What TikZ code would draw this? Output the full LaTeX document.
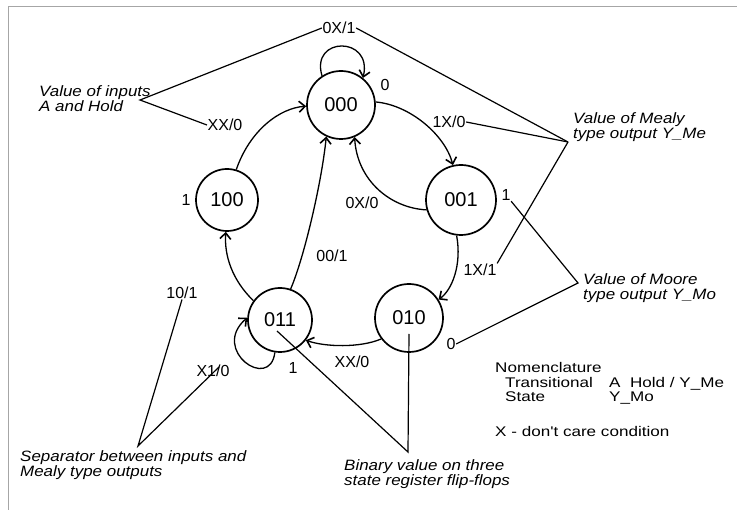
\documentclass[tikz,border=0pt]{standalone}
\usepackage{fontspec}
\setmainfont{Liberation Sans}
\newfontfamily\nomfont[FakeStretch=1.22]{Liberation Sans}
\newfontfamily\annfont[FakeStretch=1.13]{Liberation Sans}
\usetikzlibrary{arrows.meta}
\begin{document}
\begin{tikzpicture}[x=1pt,y=-1pt,
  statenode/.style={circle,draw,line width=1.7pt,inner sep=0pt,font=\fontsize{20}{24}\selectfont},
  tlab/.style={inner sep=0.5pt,font=\fontsize{16}{18}\selectfont},
  ann/.style={inner sep=0pt,align=left,anchor=north west,font=\fontsize{15}{15}\annfont\itshape},
  nom/.style={inner sep=0pt,anchor=north west,font=\fontsize{14}{15}\nomfont},
  trans/.style={line width=1.3pt,-{Straight Barb[length=6pt,width=11pt,line width=1.6pt]}},
  leader/.style={line width=1.2pt}]
\useasboundingbox (0,0) rectangle (737,510);
\draw[gray!70,line width=1pt] (8,510) -- (8,7) -- (737,7);

% states
\node[statenode, minimum size=68pt] (s000) at (341,105) {000};
\node[statenode, minimum size=70pt] (s001) at (461,200) {001};
\node[statenode, minimum size=68pt] (s010) at (409,318) {010};
\node[statenode, minimum size=64pt] (s011) at (280,320) {011};
\node[statenode, minimum size=62pt] (s100) at (227,200) {100};

% transition labels
\node[tlab] (t0X1) at (339,28) {0X/1};
\node[tlab] (tXX0a) at (225,125) {XX/0};
\node[tlab] (t1X0) at (449,122) {1X/0};
\node[tlab] (t0X0) at (362,203) {0X/0};
\node[tlab] (t1X1) at (480,270) {1X/1};
\node[tlab] (tXX0b) at (352,362) {XX/0};
\node[tlab] (t001) at (332,256) {00/1};
\node[tlab] (t101) at (182,293) {10/1};
\node[tlab] (tX10) at (213,371) {X1/0};

% Moore outputs
\node[tlab] (m000) at (385,85) {0};
\node[tlab] (m001) at (506,195) {1};
\node[tlab] (m010) at (451,344) {0};
\node[tlab] (m011) at (293,368) {1};
\node[tlab] (m100) at (186,200) {1};

% transitions
\draw[trans] (s000.5) .. controls (410,105) and (445,135) .. (s001.103);
\draw[trans] (s001.196) .. controls (390,208) and (357,180) .. (s000.293);
\draw[trans] (s001.-97) .. controls (462,265) and (452,290) .. (s010.32);
\draw[trans] (s010.217) .. controls (360,348) and (325,347) .. (s011.-38);
\draw[trans] (s011.71) .. controls (305,255) and (322,180) .. (s000.245);
\draw[trans] (s011.144) .. controls (232,280) and (224,255) .. (s100.268);
\draw[trans] (s100.73) .. controls (250,130) and (280,108) .. (s000.182);
\draw[trans] (s000.123) .. controls (310,36) and (373,36) .. (s000.51);
\draw[trans] (s011.261) .. controls (270,392) and (210,350) .. (s011.176);

% annotations
\node[ann] (ainp) at (39,85) {Value of inputs\\A and Hold};
\node[ann] (amea) at (573,112) {Value of Mealy\\type output Y\_Me};
\node[ann] (amoo) at (583,273) {Value of Moore\\type output Y\_Mo};
\node[ann] (abin) at (344,459) {Binary value on three\\state register flip-flops};
\node[ann] (asep) at (20,450) {Separator between inputs and\\Mealy type outputs};

\coordinate (pIn) at (140,100);
\coordinate (pMe) at (568,142);
\coordinate (pMo) at (578,283);
\coordinate (pBin) at (408,452);
\coordinate (pSep) at (138,446);
\coordinate (b011) at (277,331);
\coordinate (b010) at (409,334);
\coordinate (cX10) at (219,367);

\draw[leader] (t0X1.west) -- (pIn) -- (tXX0a.west);
\draw[leader] (t0X1.east) -- (pMe);
\draw[leader] (t1X0.east) -- (pMe);
\draw[leader] (pMe) -- (t1X1.north east);
\draw[leader] (m001.south east) -- (pMo) -- (m010.east);
\draw[leader] (b011) -- (pBin) -- (b010);
\draw[leader] (t101.south) -- (pSep) -- (cX10);

% nomenclature
\node[nom] (nom1) at (495,362) {Nomenclature};
\node[nom] (nom2) at (505,377) {Transitional};
\node[nom] (nom3) at (609,377) {A\ \ Hold / Y\_Me};
\node[nom] (nom4) at (505,392) {State};
\node[nom] (nom5) at (609,392) {Y\_Mo};
\node[nom] (nom6) at (495,426) {X - don't care condition};
\end{tikzpicture}
\end{document}
